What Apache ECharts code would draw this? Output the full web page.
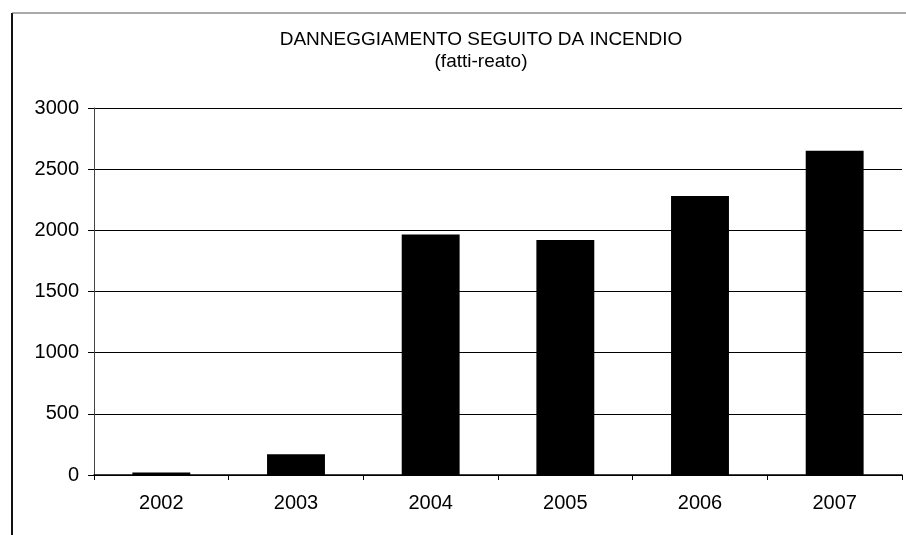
<!DOCTYPE html>
<html>
<head>
<meta charset="utf-8">
<script src="https://cdn.jsdelivr.net/npm/echarts@6/dist/echarts.min.js"></script>
<style>
  html, body { margin: 0; padding: 0; background: #fff; }
  #chart { width: 906px; height: 535px; }
</style>
</head>
<body>
<div id="chart"></div>
<script>
// dati
const years = ["2002", "2003", "2004", "2005", "2006", "2007"];
const fattiReato = [20, 170, 1965, 1920, 2280, 2650];
const yTicks = [0, 500, 1000, 1500, 2000, 2500, 3000];

const font = "Liberation Sans, Arial, sans-serif";
const chart = echarts.init(document.getElementById("chart"));
chart.setOption({
  animation: false,
  backgroundColor: "#fff",
  title: {
    text: "DANNEGGIAMENTO SEGUITO DA INCENDIO",
    subtext: "(fatti-reato)",
    left: 476,
    top: 25,
    textAlign: "center",
    itemGap: 3,
    textStyle: { fontFamily: font, fontSize: 19, fontWeight: "normal", color: "#000" },
    subtextStyle: { fontFamily: font, fontSize: 19, color: "#000" },
  },
  // cornice del grafico
  graphic: [
    { type: "line", shape: { x1: 12, y1: 13, x2: 12, y2: 535 }, style: { stroke: "#111", lineWidth: 2 } },
    { type: "line", shape: { x1: 12, y1: 13, x2: 906, y2: 13 }, style: { stroke: "#555", lineWidth: 1 } },
  ],
  grid: { left: 94, right: 4, top: 108, bottom: 60 },
  xAxis: {
    type: "category",
    data: years,
    axisLine: { lineStyle: { color: "#000", width: 1.5 } },
    axisTick: { show: true, length: 5, lineStyle: { color: "#000" } },
    axisLabel: { fontFamily: font, fontSize: 20, color: "#000", margin: 18 },
  },
  yAxis: {
    type: "value",
    min: yTicks[0],
    max: yTicks[yTicks.length - 1],
    interval: 500,
    axisLine: { show: true, lineStyle: { color: "#444", width: 1 } },
    axisTick: { show: true, length: 6, lineStyle: { color: "#000" } },
    axisLabel: {
      fontFamily: font, fontSize: 20, color: "#000", margin: 15,
      formatter: (v) => String(v), // niente separatore delle migliaia
    },
    splitLine: { lineStyle: { color: "#000", width: 1.2 } },
  },
  series: [
    {
      type: "bar",
      data: fattiReato,
      barWidth: "43%",
      itemStyle: { color: "#000" },
    },
  ],
});
</script>
</body>
</html>
